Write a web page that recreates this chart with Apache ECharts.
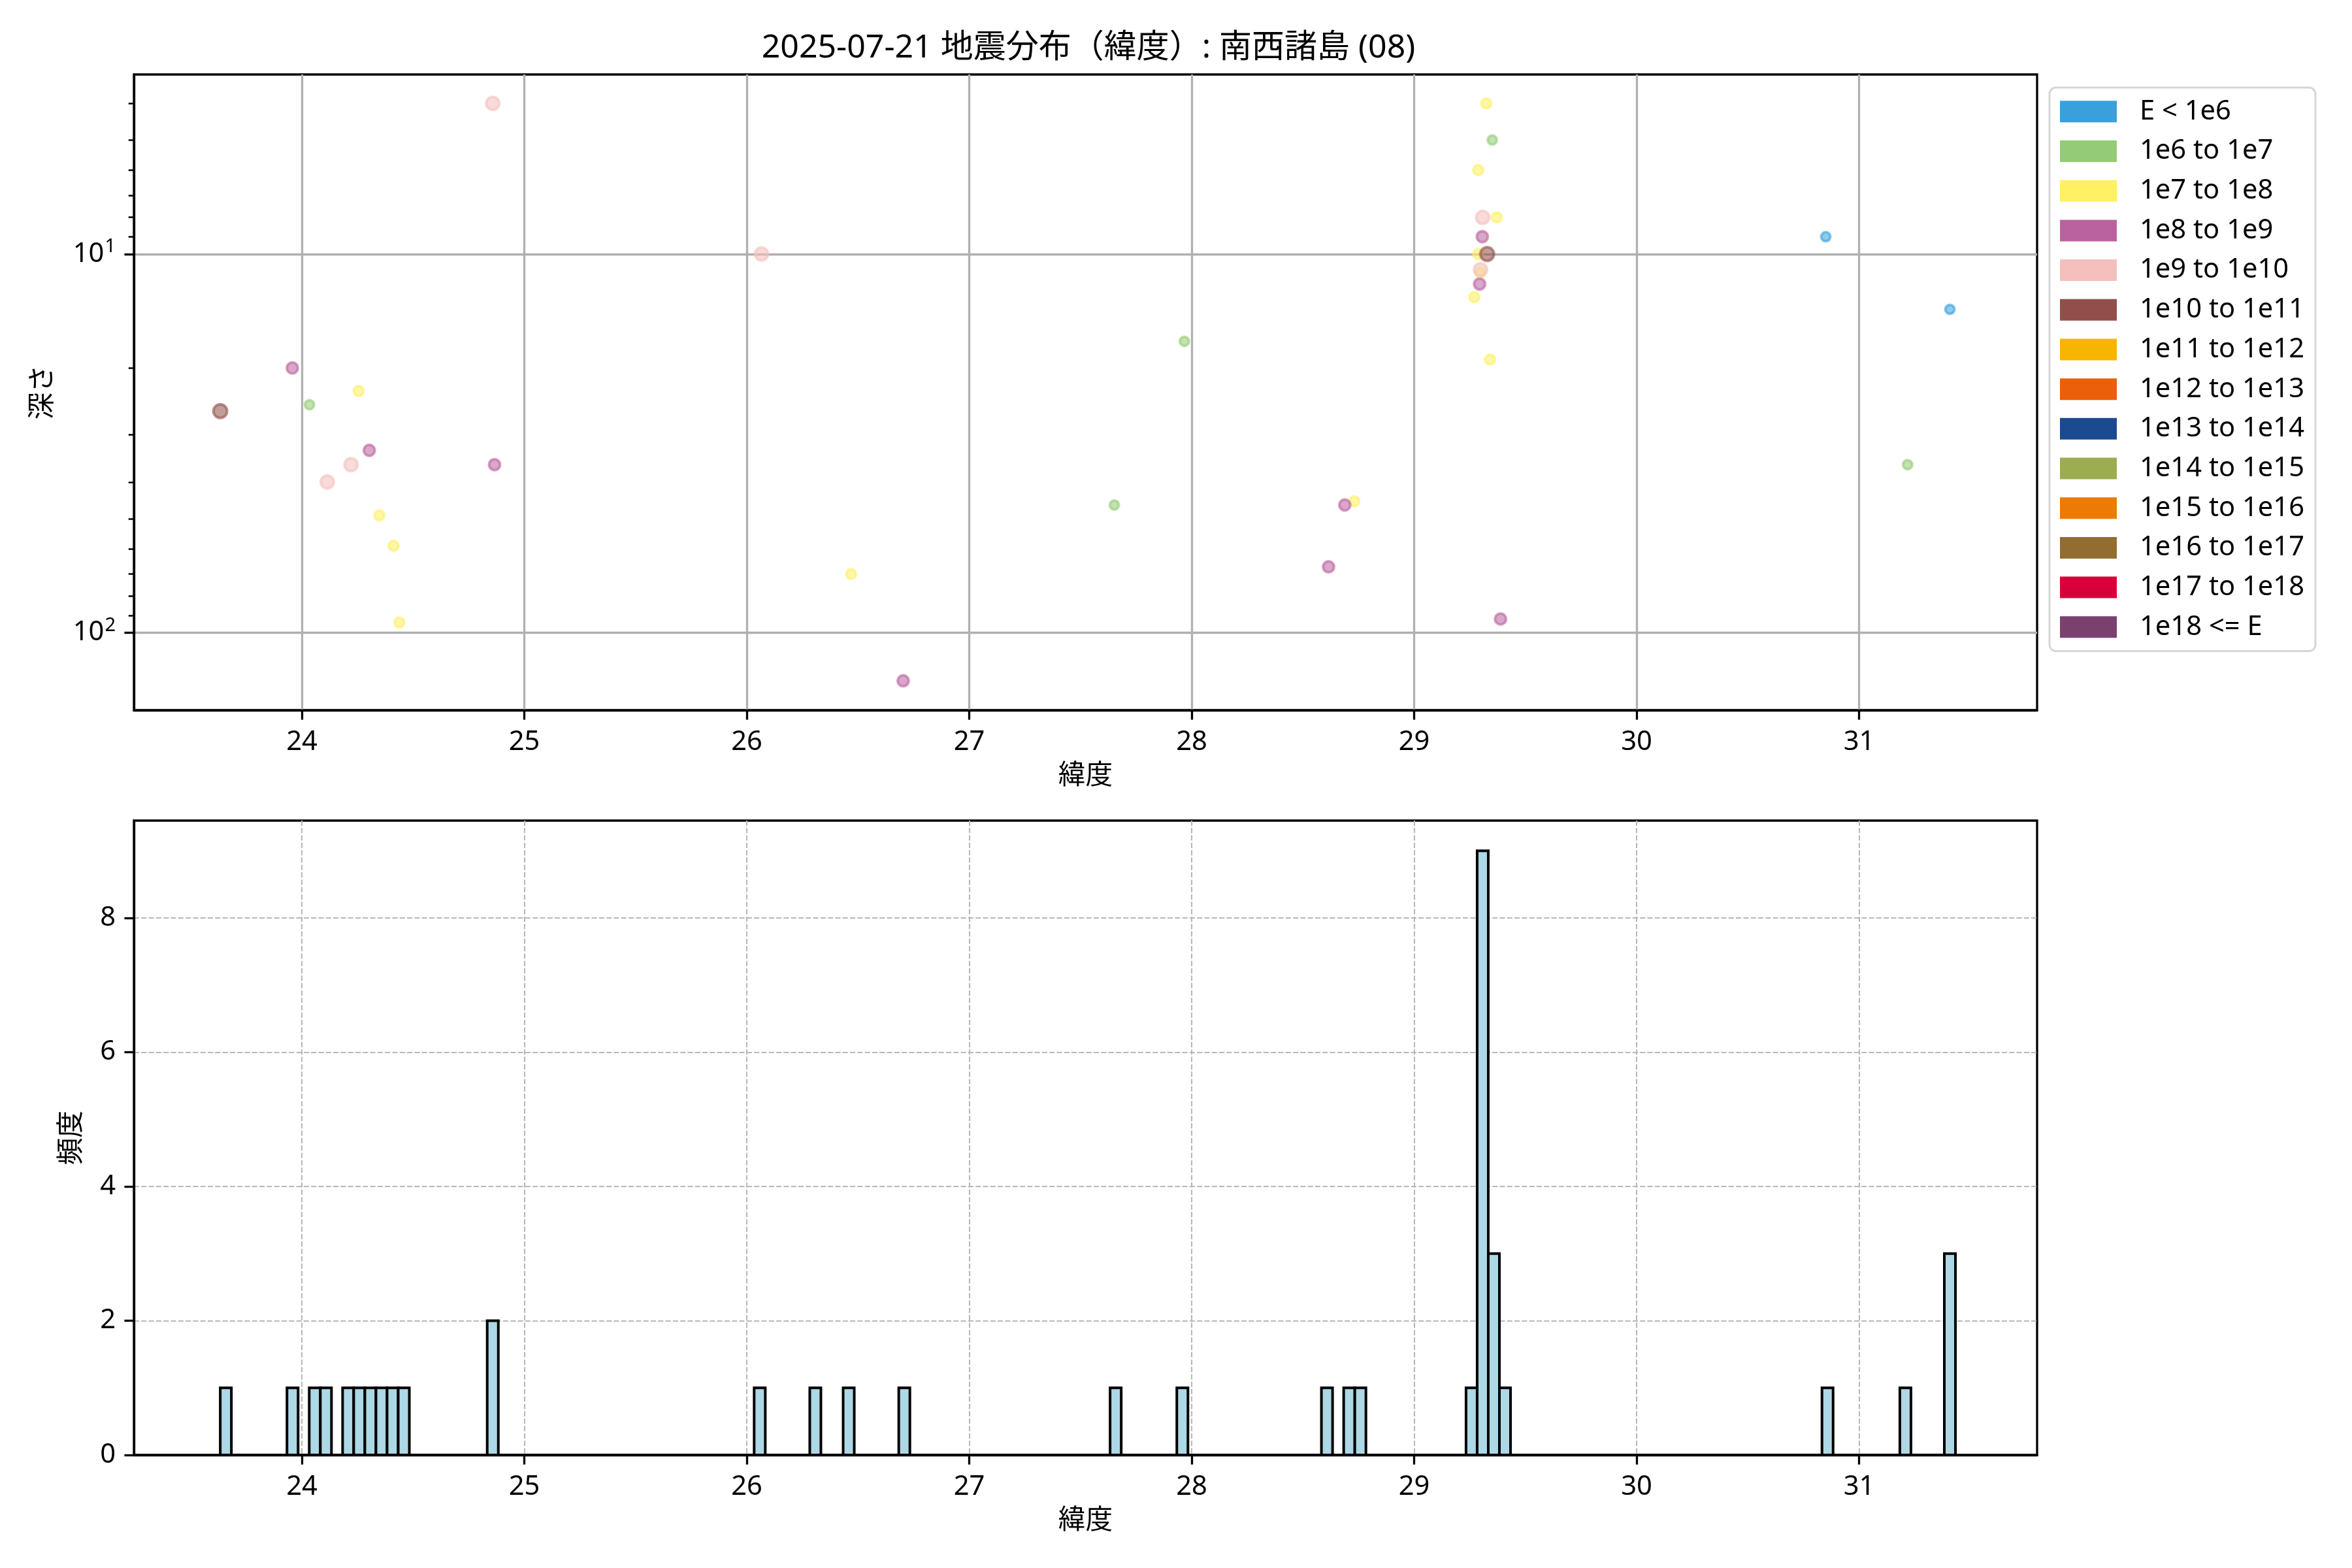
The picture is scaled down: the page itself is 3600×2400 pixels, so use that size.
<!DOCTYPE html>
<html><head><meta charset="utf-8">
<script src="https://cdn.jsdelivr.net/npm/echarts@6/dist/echarts.min.js"></script>
<style>html,body{margin:0;padding:0;background:#fff}#c{width:3600px;height:2400px}</style>
</head><body><div id="c"></div>
<script>
const FONT = '"Noto Sans", "Noto Sans CJK JP", sans-serif';
const chartTitle = '2025-07-21 地震分布（緯度）: 南西諸島 (08)';
const xName = '緯度';
const depthName = '深さ';
const histName = '頻度';

const energyClasses = ['E < 1e6','1e6 to 1e7','1e7 to 1e8','1e8 to 1e9','1e9 to 1e10','1e10 to 1e11','1e11 to 1e12','1e12 to 1e13','1e13 to 1e14','1e14 to 1e15','1e15 to 1e16','1e16 to 1e17','1e17 to 1e18','1e18 <= E'];
const classColors = ['#3aa0db','#94cb76','#fff064','#ba62a0','#f5bfbd','#924f4a','#f7b500','#ea5f08','#1c4a91','#9bad50','#ee7a06','#936d2f','#d8003a','#7a416f'];
const classSizes = [14,14,15,17,20,21,22,23,24,25,26,27,28,29];

// scatter points: latitude, depth, energy class index
const latitudes = [23.633,23.957,24.034,24.114,24.221,24.255,24.303,24.348,24.412,24.438,24.858,24.866,26.066,26.469,26.703,27.652,27.967,28.615,28.688,28.731,29.270,29.288,29.288,29.294,29.296,29.298,29.306,29.308,29.324,29.328,29.341,29.351,29.371,29.388,30.850,31.218,31.408];
const depths    = [26,20,25,40,36,23,33,49,59,94,4,36,10,70,134,46,17,67,46,45,13,6,10,12,11.2,11,9,8,4,10,19,5,8,92,9,36,14];
const classIdx  = [5,3,1,4,4,2,3,2,2,2,4,3,4,2,3,1,1,3,3,2,2,2,2,3,2,4,3,4,2,5,2,1,2,3,0,1,0];

// histogram (bin width 0.05), non-empty bins: left edge and count
const histBinWidth = 0.05;
const histRange = [23.633, 31.433];
const histEdges  = [23.633,23.933,24.033,24.083,24.183,24.233,24.283,24.333,24.383,24.433,24.833,26.033,26.283,26.433,26.683,27.633,27.933,28.583,28.683,28.733,29.233,29.283,29.333,29.383,30.833,31.183,31.383];
const histCounts = [1,1,1,1,1,1,1,1,1,1,2,1,1,1,1,1,1,1,1,1,1,9,3,1,1,1,3];

const xTicks = [24,25,26,27,28,29,30,31];
const depthTicks = [10,100];
const depthMinorTicks = [4,5,6,7,8,9,20,30,40,50,60,70,80,90];
const histTicks = [0,2,4,6,8];
const xRange = [23.245, 31.80];
const depthRange = [3.356, 160.2];
const histYRange = [0, 9.45];

function rgba(hex, a){const n=parseInt(hex.slice(1),16);return 'rgba('+((n>>16)&255)+','+((n>>8)&255)+','+(n&255)+','+a+')';}

const FS = 41.7;
const tickStyle = {show:true, length:14.6, lineStyle:{color:'#000', width:3.3}};
const labelBase = {color:'#000', fontSize:FS, fontFamily:FONT, margin:28};

const scatterSeries = energyClasses.map((name, ci) => ({
  type:'scatter', name, xAxisIndex:0, yAxisIndex:0,
  data: latitudes.map((lat,i)=>[lat, depths[i], classIdx[i]]).filter(d=>d[2]===ci).map(d=>[d[0],d[1]]),
  symbol:'circle', symbolSize: classSizes[ci],
  itemStyle:{color: rgba(classColors[ci],0.7), borderColor: rgba(classColors[ci],0.75), borderWidth:4},
  z: 3
}));

const option = {
  animation:false,
  backgroundColor:'#fff',
  title:{text:chartTitle, left:1661, top:44, textAlign:'center',
    textStyle:{fontSize:50, fontWeight:'normal', color:'#000', fontFamily:FONT}},
  legend:{
    orient:'vertical', left:3137, top:134, selectedMode:false,
    data: energyClasses.map((n,i)=>({name:n, icon:'rect', itemStyle:{color:classColors[i], opacity:1, borderWidth:0}})),
    itemWidth:87, itemHeight:33, itemGap:19,
    padding:[16,17,16,16],
    textStyle:{fontSize:FS, fontFamily:FONT, color:'#000', padding:[0,0,0,30]},
    borderColor:'#d6d6d6', borderWidth:3, borderRadius:10, backgroundColor:'rgba(255,255,255,0.8)'
  },
  grid:[
    {left:205, right:482, top:114, height:973, show:true, borderColor:'#000', borderWidth:3.3, backgroundColor:'transparent'},
    {left:205, right:482, top:1256, height:971, show:true, borderColor:'#000', borderWidth:3.3, backgroundColor:'transparent'}
  ],
  xAxis:[
    {type:'value', gridIndex:0, min:xRange[0], max:xRange[1],
     name:xName, nameLocation:'middle', nameGap:80, nameTextStyle:{fontSize:FS, fontFamily:FONT, color:'#000'},
     axisLine:{show:true, onZero:false, lineStyle:{color:'#000', width:3.3}},
     axisTick:Object.assign({customValues:xTicks}, tickStyle),
     axisLabel:Object.assign({customValues:xTicks}, labelBase),
     splitLine:{show:true, lineStyle:{color:'#b0b0b0', width:3.3}}},
    {type:'value', gridIndex:1, min:xRange[0], max:xRange[1],
     name:xName, nameLocation:'middle', nameGap:80, nameTextStyle:{fontSize:FS, fontFamily:FONT, color:'#000'},
     axisLine:{show:true, onZero:false, lineStyle:{color:'#000', width:3.3}},
     axisTick:Object.assign({customValues:xTicks}, tickStyle),
     axisLabel:Object.assign({customValues:xTicks}, labelBase),
     splitLine:{show:true, lineStyle:{color:'#b8b8b8', width:2.1, type:[8,3.3]}}}
  ],
  yAxis:[
    {type:'log', logBase:10, gridIndex:0, position:'left', min:depthRange[0], max:depthRange[1], inverse:true,
     name:depthName, nameLocation:'middle', nameGap:118, nameRotate:90, nameTextStyle:{fontSize:FS, fontFamily:FONT, color:'#000'},
     axisLine:{show:true, lineStyle:{color:'#000', width:3.3}},
     axisTick:Object.assign({customValues:depthTicks}, tickStyle),
     axisLabel:Object.assign({customValues:depthTicks,
       formatter:v=>'{b|10}{s|'+Math.round(Math.log10(v))+'}',
       rich:{b:{fontSize:FS, fontFamily:FONT, color:'#000'}, s:{fontSize:29, fontFamily:FONT, color:'#000', padding:[0,0,22,1]}}}, labelBase),
     splitLine:{show:true, lineStyle:{color:'#b0b0b0', width:3.3}}},
    {type:'log', logBase:10, gridIndex:0, position:'left', offset:0, min:depthRange[0], max:depthRange[1], inverse:true,
     axisLine:{show:false},
     axisTick:{show:true, customValues:depthMinorTicks, length:8.3, lineStyle:{color:'#000', width:2.5}},
     axisLabel:{show:false}, splitLine:{show:false}},
    {type:'value', gridIndex:1, min:histYRange[0], max:histYRange[1],
     name:histName, nameLocation:'middle', nameGap:74, nameRotate:90, nameTextStyle:{fontSize:FS, fontFamily:FONT, color:'#000'},
     axisLine:{show:true, lineStyle:{color:'#000', width:3.3}},
     axisTick:Object.assign({customValues:histTicks}, tickStyle),
     axisLabel:Object.assign({customValues:histTicks}, labelBase),
     splitLine:{show:true, lineStyle:{color:'#b8b8b8', width:2.1, type:[8,3.3]}}}
  ],
  series: scatterSeries.concat([
    {type:'custom', xAxisIndex:1, yAxisIndex:2, z:3,
     data:[[histRange[0], histRange[1]]],
     renderItem:(params, api)=>{
       const a=api.coord([api.value(0),0]), b=api.coord([api.value(1),0]);
       return {type:'line', shape:{x1:a[0], y1:a[1], x2:b[0], y2:b[1]}, style:{stroke:'#000', lineWidth:4}};
     }},
    {type:'custom', xAxisIndex:1, yAxisIndex:2, z:4,
     data: histEdges.map((e,i)=>[e, histCounts[i]]),
     encode:{x:0, y:1},
     renderItem:(params, api)=>{
       const x0=api.value(0), c=api.value(1);
       const p0=api.coord([x0, c]), p1=api.coord([x0+histBinWidth, 0]);
       return {type:'rect', shape:{x:p0[0], y:p0[1], width:p1[0]-p0[0], height:p1[1]-p0[1]},
         style:{fill:'#add8e6', stroke:'#000', lineWidth:4}};
     }}
  ])
};
const chart = echarts.init(document.getElementById('c'), null, {renderer:'canvas'});
chart.setOption(option);
</script></body></html>
